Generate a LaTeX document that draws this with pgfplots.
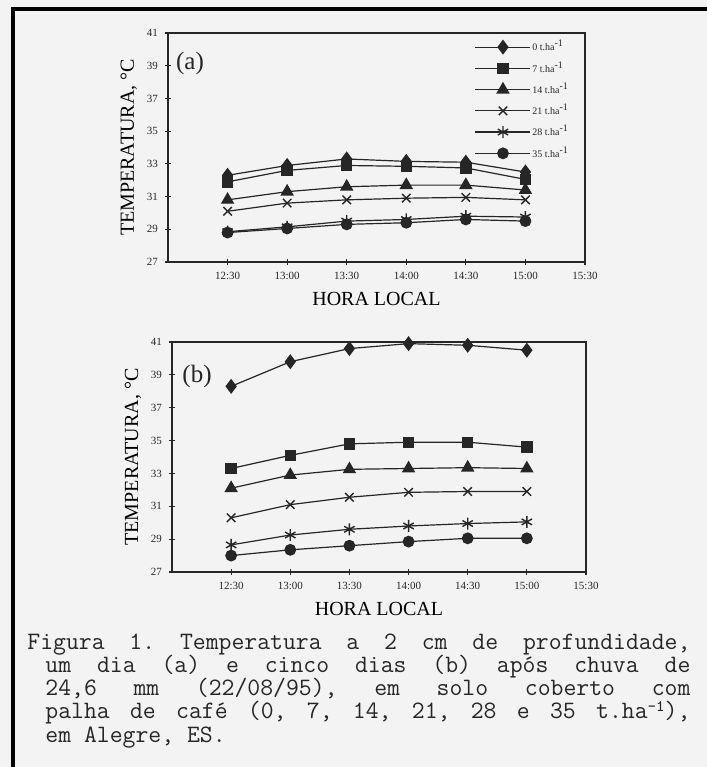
\documentclass[border=0pt]{standalone}
\usepackage{pgfplots}
\pgfplotsset{compat=1.18}
\usepackage{pgfplotstable}
\usepackage{fontspec}
\setmainfont{Liberation Serif}

\definecolor{paper}{RGB}{243,243,243}
\definecolor{ink}{RGB}{38,38,38}

% (a) um dia apos a chuva
\pgfplotstableread{
h    s0    s7    s14   s21   s28   s35
12.5 32.3  31.9  30.8  30.1  28.85 28.8
13.0 32.9  32.6  31.3  30.6  29.15 29.05
13.5 33.3  32.9  31.6  30.8  29.5  29.3
14.0 33.15 32.85 31.7  30.9  29.6  29.4
14.5 33.1  32.75 31.7  30.95 29.8  29.6
15.0 32.5  32.05 31.4  30.8  29.75 29.5
}\diaum

% (b) cinco dias apos a chuva
\pgfplotstableread{
h    s0    s7    s14   s21   s28   s35
12.5 38.3  33.3  32.1  30.3  28.65 28.0
13.0 39.8  34.1  32.9  31.1  29.25 28.35
13.5 40.6  34.8  33.25 31.55 29.6  28.6
14.0 40.9  34.9  33.3  31.85 29.8  28.85
14.5 40.8  34.9  33.35 31.9  29.95 29.05
15.0 40.5  34.6  33.3  31.9  30.05 29.05
}\diacinco

\pgfplotsset{
  tempaxis/.style={
    scale only axis,
    xmin=12, xmax=15.5, ymin=27, ymax=41,
    xtick={12.5,13,13.5,14,14.5,15,15.5},
    xticklabels={12:30,13:00,13:30,14:00,14:30,15:00,15:30},
    ytick={27,29,...,41},
    tick align=center, xtick pos=bottom, ytick pos=left,
    major tick length=3pt,
    tick style={line width=0.6pt, ink},
    axis line style={line width=0.6pt, ink},
    tick label style={font=\fontsize{5.5}{6}\selectfont, text=ink},
    /pgf/number format/assume math mode=true,
    xlabel={HORA LOCAL}, ylabel={TEMPERATURA, °C},
    label style={font=\fontsize{5.5}{6}\selectfont, text=ink},
    every axis x label/.style={at={(axis description cs:0.5,-0.16)}, anchor=center},
    every axis y label/.style={at={(axis description cs:-0.094,0.5)}, rotate=90, anchor=center},
    clip=false,
  },
  ser/.style={ink, line width=0.6pt, mark options={solid, fill=ink, draw=ink, line width=0.7pt}},
  m0/.style={ser, mark=diamond*, mark size=3.2pt},
  m7/.style={ser, mark=square*, mark size=2.5pt},
  m14/.style={ser, mark=triangle*, mark size=3.2pt},
  m21/.style={ser, mark=x, mark size=3pt},
  m28/.style={ser, mark=asterisk, mark size=3pt},
  m35/.style={ser, mark=*, mark size=2.6pt},
}

% one justified caption line of a given width
\newcommand{\capline}[2]{\hbox to #1{\frenchspacing\spaceskip=0.525em plus 3em minus 0.05em #2}}
\newcommand{\capsup}[1]{\raisebox{0.3em}{\fontsize{8}{8}\selectfont #1}}

\begin{document}
\begin{tikzpicture}[x=0.5pt, y=0.5pt]
  % page and scan frame
  \fill[paper] (0,0) rectangle (707,767);
  \fill[black] (11,760) rectangle (707,756);
  \fill[black] (11,760) rectangle (15,0);

  % (a)
  \begin{axis}[tempaxis,
      at={(84pt,252.5pt)}, anchor=south west,
      width=208.5pt, height=114.5pt,
      legend style={draw=none, fill=none, at={(0.735,0.975)}, anchor=north west,
        font=\fontsize{5}{6}\selectfont, text=ink, row sep=2.6pt, inner sep=0pt,
        cells={anchor=west}, nodes={inner sep=0.6pt}},
      legend image code/.code={\draw[mark repeat=2,mark phase=2,#1]
        plot coordinates {(0pt,0pt) (13.75pt,0pt) (27.5pt,0pt)};},
    ]
    \addplot[m0]  table[x=h, y=s0]  {\diaum};
    \addplot[m7]  table[x=h, y=s7]  {\diaum};
    \addplot[m14] table[x=h, y=s14] {\diaum};
    \addplot[m21] table[x=h, y=s21] {\diaum};
    \addplot[m28] table[x=h, y=s28] {\diaum};
    \addplot[m35] table[x=h, y=s35] {\diaum};
    \legend{0 t.ha\textsuperscript{-1}, 7 t.ha\textsuperscript{-1},
      14 t.ha\textsuperscript{-1}, 21 t.ha\textsuperscript{-1},
      28 t.ha\textsuperscript{-1}, 35 t.ha\textsuperscript{-1}}
    \draw[line width=1.1pt, ink] (rel axis cs:0,1) -- (rel axis cs:0,0) -- (rel axis cs:1,0);
  \end{axis}
  \node[font=\fontsize{12.5}{13}\selectfont, text=ink] at (190,704) {(a)};

  % (b)
  \begin{axis}[tempaxis,
      at={(86pt,97.5pt)}, anchor=south west,
      width=207pt, height=115pt,
    ]
    \addplot[m0]  table[x=h, y=s0]  {\diacinco};
    \addplot[m7]  table[x=h, y=s7]  {\diacinco};
    \addplot[m14] table[x=h, y=s14] {\diacinco};
    \addplot[m21] table[x=h, y=s21] {\diacinco};
    \addplot[m28] table[x=h, y=s28] {\diacinco};
    \addplot[m35] table[x=h, y=s35] {\diacinco};
    \draw[line width=1.1pt, ink] (rel axis cs:0,1) -- (rel axis cs:0,0) -- (rel axis cs:1,0);
  \end{axis}
  \node[font=\fontsize{12.5}{13}\selectfont, text=ink] at (197,391) {(b)};

  % legenda da figura
  \begin{scope}[every node/.style={anchor=base west, inner sep=0pt, text=ink,
        font=\ttfamily\fontsize{12.5}{12.5}\selectfont\addfontfeature{FakeBold=0.5}}]
    \node at (27,117) {\capline{331.5pt}{Figura 1. Temperatura a 2 cm de profundidade,}};
    \node at (45,94)  {\capline{322.5pt}{um dia (a) e cinco dias (b) após chuva de}};
    \node at (45,71)  {\capline{322.5pt}{24,6 mm (22/08/95), em solo coberto com}};
    \node at (45,48)  {\capline{322.5pt}{palha de café (0, 7, 14, 21, 28 e 35 t.ha\capsup{-1}),}};
    \node at (45,25)  {em Alegre, ES.};
  \end{scope}
\end{tikzpicture}
\end{document}
